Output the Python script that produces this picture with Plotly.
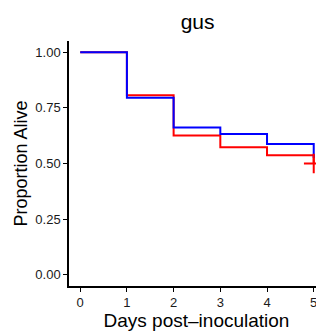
import plotly.graph_objects as go

days = [0, 1, 2, 3, 4, 5]
red_surv = [1.00, 0.806, 0.626, 0.573, 0.537, 0.50]
blue_surv = [1.00, 0.795, 0.662, 0.632, 0.587, 0.525]
censor_day = [5]
censor_val = [0.50]

x_ticks = [0, 1, 2, 3, 4, 5]
y_ticks = [0.0, 0.25, 0.5, 0.75, 1.0]
y_ticklabels = ["0.00", "0.25", "0.50", "0.75", "1.00"]

fig = go.Figure()
fig.add_trace(go.Scatter(x=days, y=red_surv, mode="lines", line=dict(color="#FF0000", width=2, shape="hv"), showlegend=False))
fig.add_trace(go.Scatter(x=days, y=blue_surv, mode="lines", line=dict(color="#0000FF", width=2, shape="hv"), showlegend=False))
fig.add_trace(go.Scatter(x=censor_day, y=censor_val, mode="markers",
                         marker=dict(symbol="cross-thin", size=14, line=dict(color="#FF0000", width=2)),
                         showlegend=False, cliponaxis=False))

font = "Liberation Sans, Arial, sans-serif"
# page has an 8px body margin, so the figure is 8px smaller than the window
fig.update_layout(
    width=316, height=327,
    margin=dict(l=61, r=0, t=33, b=49, autoexpand=False),
    plot_bgcolor="white", paper_bgcolor="white",
    title=dict(text="gus", x=0.6, xanchor="center", y=0.957, yanchor="middle",
               font=dict(family=font, size=21, color="black"), automargin=False),
    font=dict(family=font),
)
fig.update_xaxes(range=[-0.24, 5.22], tickvals=x_ticks, ticks="outside", ticklen=4, tickwidth=1.2,
                 tickcolor="black", showline=True, linecolor="black", linewidth=1.5,
                 showgrid=False, zeroline=False, automargin=False,
                 tickfont=dict(family=font, size=13, color="#1a1a1a"),
                 title=dict(text="Days post\u2013inoculation", font=dict(family=font, size=19, color="black"), standoff=1))
fig.update_yaxes(range=[-0.05, 1.05], tickvals=y_ticks, ticktext=y_ticklabels, ticks="outside", ticklen=4,
                 tickwidth=1.2, tickcolor="black", showline=True, linecolor="black", linewidth=1.5,
                 showgrid=False, zeroline=False, automargin=False,
                 tickfont=dict(family=font, size=13, color="#1a1a1a"),
                 title=dict(text="Proportion Alive", font=dict(family=font, size=18, color="black"), standoff=3))

fig.write_html("out.html")
